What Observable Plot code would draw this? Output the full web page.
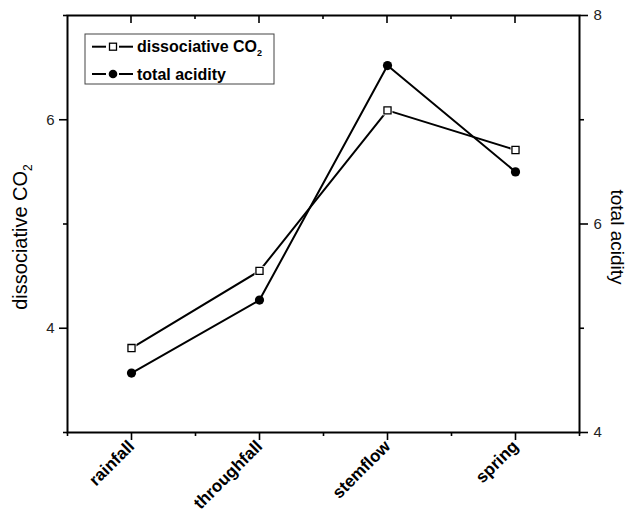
<!DOCTYPE html>
<html><head><meta charset="utf-8">
<script src="https://cdn.jsdelivr.net/npm/d3@7"></script>
<script src="https://cdn.jsdelivr.net/npm/@observablehq/plot@0.6"></script>
<style>
body{margin:0;background:#fff}
svg{font-family:"Liberation Sans",Arial,sans-serif}
</style>
</head><body><div id="chart"></div>
<script>
const categories = ["rainfall", "throughfall", "stemflow", "spring"];
const co2 = [3.81, 4.55, 6.09, 5.71];
const acidity = [4.57, 5.27, 7.52, 6.50];
const leftTicks = [4, 6];
const leftMinor = [3, 5, 7];
const rightTicks = [4, 6, 8];
const rightMinor = [5, 7];
const leftDomain = [3, 7];
const rightDomain = [4, 8];
const leftTitle = ["dissociative CO", "2"];
const rightTitle = "total acidity";
const legendLabels = [["dissociative CO", "2"], ["total acidity", ""]];

const k = (leftDomain[1] - leftDomain[0]) / (rightDomain[1] - rightDomain[0]);
const toLeft = v => leftDomain[0] + (v - rightDomain[0]) * k;
const fromLeft = v => rightDomain[0] + (v - leftDomain[0]) / k;

const xMajor = categories.map((c, i) => i + 1);
const xMinor = d3.range(0.5, categories.length + 1, 1);
const co2Data = categories.map((c, i) => ({x: i + 1, y: co2[i]}));
const acData = categories.map((c, i) => ({x: i + 1, y: toLeft(acidity[i])}));

const font = "'Liberation Sans', Arial, sans-serif";

const chart = Plot.plot({
  width: 629, height: 516,
  marginLeft: 67, marginRight: 50, marginTop: 15, marginBottom: 84,
  style: {fontFamily: font, background: "white", color: "black"},
  x: {domain: [0.5, categories.length + 0.5]},
  y: {domain: leftDomain},
  marks: [
    Plot.axisY(leftTicks, {anchor: "left", tickSize: 8, tickPadding: 5, fontSize: 15, fill: "#222", tickFormat: d => String(d), label: null, strokeWidth: 1.6}),
    Plot.axisY(leftMinor, {anchor: "left", tickSize: 4, tickFormat: () => "", label: null, strokeWidth: 1.6}),
    Plot.axisY(rightTicks.map(toLeft), {anchor: "right", tickSize: 8, tickPadding: 6, fontSize: 15, fill: "#222", tickFormat: d => String(Math.round(fromLeft(d))), label: null, strokeWidth: 1.6}),
    Plot.axisY(rightMinor.map(toLeft), {anchor: "right", tickSize: 4, tickFormat: () => "", label: null, strokeWidth: 1.6}),
    Plot.axisX(xMajor, {anchor: "bottom", tickSize: 8, tickPadding: 3, tickRotate: -45, fontSize: 17, fontWeight: "bold", tickFormat: d => categories[d - 1], label: null, strokeWidth: 1.6}),
    Plot.axisX(xMinor, {anchor: "bottom", tickSize: 4, tickFormat: () => "", label: null, strokeWidth: 1.6}),
    Plot.frame({stroke: "black", strokeWidth: 2}),
    Plot.line(acData, {x: "x", y: "y", stroke: "black", strokeWidth: 2}),
    Plot.line(co2Data, {x: "x", y: "y", stroke: "black", strokeWidth: 2}),
    Plot.dot(co2Data, {x: "x", y: "y", symbol: "square", r: 5.6, fill: "white", stroke: "none"}),
    Plot.dot(co2Data, {x: "x", y: "y", symbol: "square", r: 4, fill: "white", stroke: "black", strokeWidth: 1.3}),
    Plot.dot(acData, {x: "x", y: "y", r: 4.6, fill: "black", stroke: "none"})
  ]
});

const svg = d3.select(chart);
const xs = chart.scale("x"), ys = chart.scale("y");
const topY = ys.apply(leftDomain[1]);
// inward ticks on top border
const tg = svg.append("g").attr("stroke", "black").attr("stroke-width", 1.6);
xMajor.forEach(v => tg.append("line").attr("x1", xs.apply(v)).attr("x2", xs.apply(v)).attr("y1", topY).attr("y2", topY + 8));
xMinor.slice(1, -1).forEach(v => tg.append("line").attr("x1", xs.apply(v)).attr("x2", xs.apply(v)).attr("y1", topY).attr("y2", topY + 4));

// axis titles
const midY = 237;
const lt = svg.append("text").attr("transform", `translate(27,${midY}) rotate(-90)`)
  .attr("text-anchor", "middle").attr("font-size", 20).attr("fill", "black");
lt.append("tspan").text(leftTitle[0]);
lt.append("tspan").attr("font-size", 12).attr("dy", 5).text(leftTitle[1]);
svg.append("text").attr("transform", `translate(611,${midY}) rotate(90)`)
  .attr("text-anchor", "middle").attr("font-size", 19).attr("fill", "black").text(rightTitle);

// legend
const lg = svg.append("g");
lg.append("rect").attr("x", 85).attr("y", 34).attr("width", 189).attr("height", 50)
  .attr("fill", "white").attr("stroke", "#444").attr("stroke-width", 1);
const rows = [46.7, 74];
rows.forEach((ry, i) => {
  lg.append("line").attr("x1", 92).attr("x2", 106).attr("y1", ry).attr("y2", ry).attr("stroke", "black").attr("stroke-width", 2);
  lg.append("line").attr("x1", 119).attr("x2", 133).attr("y1", ry).attr("y2", ry).attr("stroke", "black").attr("stroke-width", 2);
  if (i === 0) {
    lg.append("rect").attr("x", 109.5).attr("y", ry - 3.5).attr("width", 7).attr("height", 7)
      .attr("fill", "white").attr("stroke", "black").attr("stroke-width", 1.3);
  } else {
    lg.append("circle").attr("cx", 113).attr("cy", ry).attr("r", 4.3).attr("fill", "black");
  }
  const t = lg.append("text").attr("x", 137).attr("y", ry + 5.5).attr("text-anchor", "start")
    .attr("font-size", 16).attr("font-weight", "bold").attr("fill", "black");
  t.append("tspan").text(legendLabels[i][0]);
  if (legendLabels[i][1]) t.append("tspan").attr("font-size", 9).attr("dy", 4).text(legendLabels[i][1]);
});

document.getElementById("chart").appendChild(chart);
</script>
</body></html>
